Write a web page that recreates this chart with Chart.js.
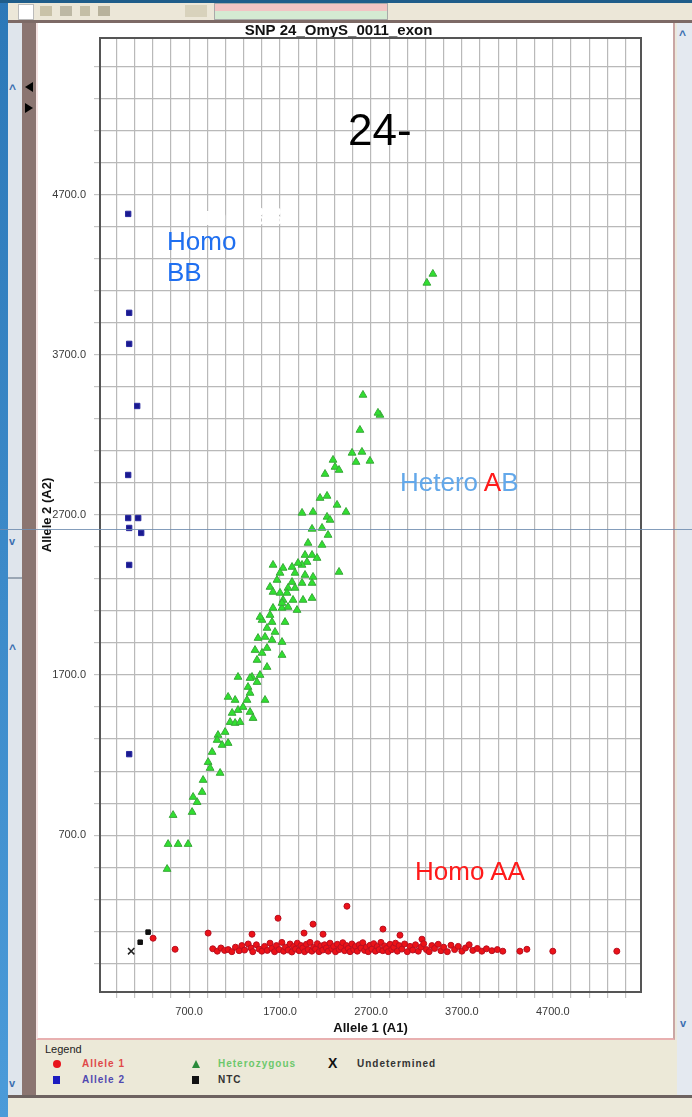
<!DOCTYPE html>
<html><head><meta charset="utf-8">
<script src="https://cdn.jsdelivr.net/npm/chart.js@4"></script>
<style>
html,body{margin:0;padding:0}
body{width:692px;height:1117px;position:relative;overflow:hidden;background:#ebe8dc;font-family:"Liberation Sans",Arial,sans-serif}
.a{position:absolute}
.ann{position:absolute;font-family:"Liberation Sans",Arial,sans-serif;white-space:nowrap;z-index:5}
.lg{position:absolute;font-size:10px;font-weight:bold;letter-spacing:1px;white-space:nowrap;line-height:12px}
</style></head><body>
<!-- window chrome -->
<div class="a" style="left:0;top:0;width:8px;height:1117px;background:linear-gradient(#2c78b8,#4b9bd9)"></div>
<div class="a" style="left:0;top:0;width:692px;height:3px;background:#1f5d8a"></div>
<div class="a" style="left:8px;top:3px;width:684px;height:17px;background:#ece7d8"></div>
<div class="a" style="left:18px;top:4px;width:14px;height:14px;background:#fff;border:1px solid #bbb"></div>
<div class="a" style="left:40px;top:6px;width:12px;height:10px;background:#c9c2a8"></div>
<div class="a" style="left:60px;top:6px;width:12px;height:10px;background:#bdb8a4"></div>
<div class="a" style="left:80px;top:6px;width:10px;height:10px;background:#c4bea6"></div>
<div class="a" style="left:98px;top:6px;width:12px;height:10px;background:#b8b29c"></div>
<div class="a" style="left:185px;top:5px;width:22px;height:12px;background:#d8d2bc"></div>
<div class="a" style="left:214px;top:3px;width:172px;height:15px;background:linear-gradient(#f2c4c4 50%,#d4ead2 50%);border:1px solid #a9a9a9"></div>
<div class="a" style="left:8px;top:20px;width:684px;height:3px;background:#7d6a66"></div>
<div class="a" style="left:8px;top:23px;width:14px;height:1072px;background:#dfe5ec"></div>
<div class="a" style="left:8px;top:577px;width:14px;height:2px;background:#9aa6b4"></div>
<div class="a" style="left:9px;top:82px;font-size:12px;color:#3a6fb0;font-weight:bold">^</div>
<div class="a" style="left:9px;top:535px;font-size:11px;color:#3a6fb0;font-weight:bold">v</div>
<div class="a" style="left:9px;top:642px;font-size:12px;color:#3a6fb0;font-weight:bold">^</div>
<div class="a" style="left:9px;top:1077px;font-size:11px;color:#3a6fb0;font-weight:bold">v</div>
<div class="a" style="left:22px;top:23px;width:14px;height:1072px;background:#8b7571"></div>
<div class="a" style="left:25px;top:82px;width:0;height:0;border-top:5px solid transparent;border-bottom:5px solid transparent;border-right:8px solid #000"></div>
<div class="a" style="left:25px;top:103px;width:0;height:0;border-top:5px solid transparent;border-bottom:5px solid transparent;border-left:8px solid #000"></div>
<div class="a" style="left:36px;top:23px;width:639px;height:1017px;background:#fff;border-left:2px solid #f6e4e4;border-right:2px solid #c9a6a4;border-bottom:2px solid #e8b0b0;box-sizing:border-box"></div>
<div class="a" style="left:677px;top:23px;width:15px;height:1072px;background:#e4e9f0"></div>
<div class="a" style="left:679px;top:28px;font-size:12px;color:#3a6fb0;font-weight:bold">^</div>
<div class="a" style="left:680px;top:1017px;font-size:11px;color:#3a6fb0;font-weight:bold">v</div>
<div class="a" style="left:36px;top:1040px;width:641px;height:55px;background:#ece9d8"></div>
<div class="a" style="left:8px;top:1095px;width:684px;height:3px;background:#6d6260"></div>
<div class="a" style="left:8px;top:1098px;width:684px;height:19px;background:#ece9da"></div>

<canvas id="c" class="a" style="left:36px;top:22px;width:636px;height:1018px" width="636" height="1018"></canvas>

<!-- annotations -->
<div class="ann" style="left:348px;top:108px;font-size:44px;line-height:44px;color:#000">24-</div>
<div class="ann" style="left:172px;top:203px;font-size:26px;line-height:26px;color:#fff">Homo BB</div>
<div class="ann" style="left:167px;top:226px;font-size:26px;line-height:31px;color:#1f6ff0">Homo<br>BB</div>
<div class="ann" style="left:400px;top:469px;font-size:26px;line-height:26px;color:#63a8ea">Hetero <span style="color:#ff1a1a">A</span>B</div>
<div class="ann" style="left:415px;top:858px;font-size:26px;line-height:26px;color:#ff1a1a">Homo AA</div>
<div class="a" style="left:0;top:529px;width:692px;height:1px;background:rgba(110,140,175,0.85);z-index:10"></div>

<!-- legend -->
<div class="a" style="left:45px;top:1043px;font-size:11px;color:#222">Legend</div>
<div class="a" style="left:53px;top:1060px;width:8px;height:8px;border-radius:50%;background:#e8141c"></div>
<div class="lg" style="left:82px;top:1058px;color:#e04848">Allele 1</div>
<div class="a" style="left:53px;top:1076px;width:7px;height:8px;background:#1c1cc0"></div>
<div class="lg" style="left:82px;top:1074px;color:#5048b0">Allele 2</div>
<div class="a" style="left:192px;top:1060px;width:0;height:0;border-left:4px solid transparent;border-right:4px solid transparent;border-bottom:8px solid #2a8a3a"></div>
<div class="lg" style="left:218px;top:1058px;color:#6cc86c">Heterozygous</div>
<div class="a" style="left:192px;top:1076px;width:7px;height:8px;background:#111"></div>
<div class="lg" style="left:218px;top:1074px;color:#333">NTC</div>
<div class="a" style="left:328px;top:1055px;font-size:14px;font-weight:bold;color:#111">X</div>
<div class="lg" style="left:357px;top:1058px;color:#333">Undetermined</div>

<script>
// ---------- data ----------
const chartTitle = "SNP 24_OmyS_0011_exon";
const xAxisTitle = "Allele 1 (A1)";
const yAxisTitle = "Allele 2 (A2)";
const xTickLabels = [700, 1700, 2700, 3700, 4700];
const yTickLabels = [700, 1700, 2700, 3700, 4700];

// Allele 1 (Homo AA) - red circles
const allele1X = [304,546,909,1392,1678,1964,2063,2173,2436,2832,3019,3261,4338,4415,4700,5404,
 960,1010,1050,1090,1130,1170,1210,1250,1280,1310,1350,1380,1400,1440,1470,1500,1530,1560,1590,1610,
 1640,1660,1690,1720,1740,1760,1790,1810,1830,1850,1870,1890,1910,1930,1950,1970,1990,2010,2030,2050,
 2070,2090,2110,2130,2150,2170,2190,2210,2230,2250,2270,2290,2310,2330,2350,2370,2390,2410,2430,2450,
 2470,2490,2510,2530,2550,2570,2590,2610,2630,2650,2670,2690,2710,2730,2750,2770,2790,2810,2830,2850,
 2870,2890,2910,2930,2950,2970,2990,3010,3040,3070,3100,3130,3160,3190,3220,3250,3280,3310,
 3340,3370,3400,3440,3470,3500,3540,3580,3620,3660,3700,3740,3780,3820,3870,3920,3970,4030,4090,4150];
const allele1Y = [56,-13,88,81,181,88,144,81,256,113,75,50,-25,-13,-25,-25,
 -10,-25,-5,-20,-15,-28,0,-22,10,-18,20,-5,-28,15,-12,-25,5,-20,25,-8,
 -28,10,-15,30,-25,0,-18,20,-30,5,-12,25,-22,10,-5,-28,18,-15,30,-25,
 0,-12,22,-28,8,-18,15,-5,-25,25,-10,5,-28,18,-15,0,28,-22,10,-8,
 -28,20,-15,5,-25,15,-5,28,-20,0,-28,12,-12,22,-25,5,-15,30,-22,8,
 -8,-28,18,-15,0,25,-25,10,-12,20,-28,5,-18,15,-25,0,22,-15,
 -28,10,-8,18,-22,0,-28,12,-15,5,-25,-5,15,-20,-8,-25,-10,-22,-15,-25];

// Allele 2 (Homo BB) - blue squares
const allele2X = [30,41,41,129,30,30,140,41,173,41,41];
const allele2Y = [4581,3963,3769,3381,2950,2681,2681,2619,2588,2388,1206];

// Heterozygous (Hetero AB) - green triangles
const heteroX = [3381,3315,2612,2799,2777,2579,2492,2601,2536,2689,
 2283,2305,2349,2195,2217,2140,2327,2426,1942,2063,
 2217,2250,2052,2162,2228,2008,2162,2052,1975,2107,
 1997,1942,1898,1832,1733,1623,2349,1700,1865,1975,
 2063,1667,1832,1942,2052,1590,1788,1865,1700,1777,
 1623,1733,1843,2052,1953,1623,1722,1887,1590,1722,
 1788,1502,1612,1755,1480,1557,1645,1458,1535,1612,
 1722,1425,1502,1557,1722,1447,1557,1392,1480,1238,
 1370,1447,1348,1370,1129,1206,1337,1535,1238,1293,
 1370,1173,1403,1151,1206,1260,1018,1096,1008,1063,
 1129,953,909,931,1041,854,843,788,744,524,
 733,469,579,689,458];
const heteroY = [4206,4150,3450,3325,3338,3231,3088,3094,3031,3038,
 3044,3000,2981,2956,2819,2806,2763,2719,2713,2719,
 2688,2669,2613,2619,2575,2525,2513,2450,2450,2431,
 2406,2388,2400,2375,2369,2388,2344,2338,2338,2325,
 2313,2294,2281,2275,2275,2250,2244,2244,2213,2213,
 2219,2169,2169,2181,2169,2119,2119,2106,2075,2150,
 2125,2044,2031,2031,2063,1994,1969,1931,1938,1919,
 1906,1856,1838,1869,1825,1794,1750,1688,1700,1688,
 1681,1656,1625,1588,1563,1544,1544,1544,1481,1500,
 1469,1463,1431,1406,1400,1406,1325,1344,1294,1263,
 1275,1219,1156,1119,1088,1044,969,906,938,825,
 844,644,644,644,488];

// NTC - black squares
const ntcX = [249,162];
const ntcY = [94,31];
// Undetermined - X
const undetX = [63];
const undetY = [-25];

// axis extents and grid spacing
const xMin = -280, xMax = 5670;
const yMin = -280, yMax = 5680;
const gridStart = -100, gridStep = 200;

// ---------- chart ----------
const zip = (xs, ys) => xs.map((x, i) => ({x: x, y: ys[i]}));

function gridTicks(scale) {
  const t = [];
  for (let v = gridStart; v <= scale.max; v += gridStep) t.push({value: v});
  scale.ticks = t;
}

const frame = {
  id: 'frame',
  beforeDatasetsDraw(chart) {
    const a = chart.chartArea, ctx = chart.ctx;
    ctx.save();
    ctx.strokeStyle = '#555';
    ctx.lineWidth = 2;
    ctx.strokeRect(a.left, a.top, a.right - a.left, a.bottom - a.top);
    ctx.restore();
  }
};

const gridOpts = {color: '#b9b9b9', lineWidth: 1.2, tickLength: 6, tickColor: '#c4c4c4'};
const tickFont = {family: '"Liberation Sans", Arial, sans-serif', size: 11};

new Chart(document.getElementById('c'), {
  type: 'scatter',
  data: {
    datasets: [
      {label: 'Heterozygous', data: zip(heteroX, heteroY), pointStyle: 'triangle', pointRadius: 4.5,
       backgroundColor: '#30e030', borderColor: '#3aa83a', borderWidth: 1},
      {label: 'Allele 1', data: zip(allele1X, allele1Y), pointStyle: 'circle', pointRadius: 3,
       backgroundColor: '#ec1218', borderColor: '#b80f20', borderWidth: 1},
      {label: 'Allele 2', data: zip(allele2X, allele2Y), pointStyle: 'rect', pointRadius: 3.8,
       backgroundColor: '#1a1a90', borderColor: '#2a2aa0', borderWidth: 1},
      {label: 'NTC', data: zip(ntcX, ntcY), pointStyle: 'rect', pointRadius: 3.2,
       backgroundColor: '#111', borderColor: '#111', borderWidth: 1},
      {label: 'Undetermined', data: zip(undetX, undetY), pointStyle: 'crossRot', pointRadius: 4.5,
       backgroundColor: '#222', borderColor: '#222', borderWidth: 1.5}
    ]
  },
  options: {
    responsive: false,
    animation: false,
    events: [],
    layout: {padding: {left: 0, right: 31, top: 0, bottom: 0}},
    plugins: {
      legend: {display: false},
      tooltip: {enabled: false},
      title: {display: true, text: chartTitle, color: '#111',
        font: {family: '"Liberation Sans", Arial, sans-serif', size: 15, weight: 'bold', lineHeight: 1},
        padding: {top: 1, bottom: 0}}
    },
    scales: {
      x: {
        type: 'linear', min: xMin, max: xMax,
        afterBuildTicks: gridTicks,
        afterFit(s) { s.height = 48; },
        grid: gridOpts,
        border: {display: true, color: '#555', width: 2},
        ticks: {autoSkip: false, maxRotation: 0, padding: 7, color: '#3a3a3a', font: tickFont,
          callback: v => xTickLabels.includes(v) ? v.toFixed(1) : ''},
        title: {display: true, text: xAxisTitle, color: '#111',
          font: {family: '"Liberation Sans", Arial, sans-serif', size: 13, weight: 'bold'},
          padding: {top: 0, bottom: 4}}
      },
      y: {
        type: 'linear', min: yMin, max: yMax,
        afterBuildTicks: gridTicks,
        afterFit(s) { s.width = 64; },
        grid: gridOpts,
        border: {display: true, color: '#555', width: 2},
        ticks: {autoSkip: false, padding: 8, color: '#3a3a3a', font: tickFont,
          callback: v => yTickLabels.includes(v) ? v.toFixed(1) : ''},
        title: {display: true, text: yAxisTitle, color: '#111',
          font: {family: '"Liberation Sans", Arial, sans-serif', size: 13, weight: 'bold'},
          padding: {top: 4, bottom: 0}}
      }
    }
  },
  plugins: [frame]
});
</script>
</body></html>
